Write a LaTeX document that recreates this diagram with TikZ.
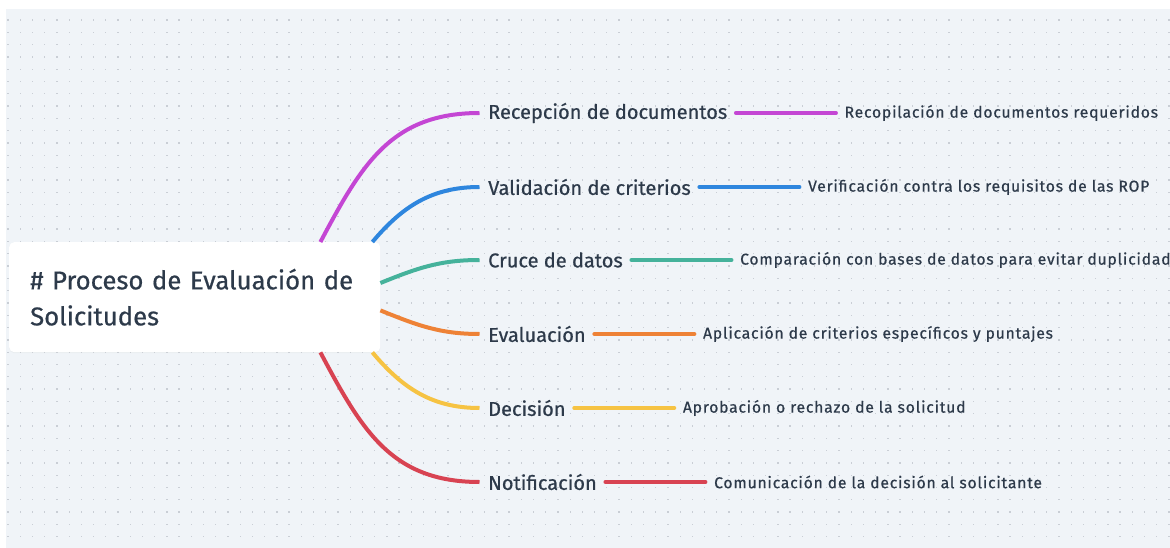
\documentclass[tikz,border=0pt]{standalone}
\usepackage{fontspec}
\setmainfont[FakeBold=0.6]{Fira Sans}
\newfontfamily\leaffont[LetterSpace=5, FakeBold=0.6]{Fira Sans}
\usepackage{tikz}
\usetikzlibrary{positioning,shadows}
\definecolor{canvas}{HTML}{F0F4F8}
\definecolor{dotgray}{HTML}{C9CED5}
\definecolor{ink}{HTML}{2D3A4A}
\definecolor{cpurple}{HTML}{C446D4}
\definecolor{cblue}{HTML}{2E86DE}
\definecolor{cteal}{HTML}{45B29B}
\definecolor{corange}{HTML}{EE8236}
\definecolor{cyellow}{HTML}{F6C343}
\definecolor{cred}{HTML}{D84352}
\tikzset
{
    rootnode/.style = {rectangle, rounded corners=5pt, fill=white, text=ink, align=left, anchor=north west, minimum width=371pt, minimum height=110pt, text width=329pt, inner xsep=21pt, font=\fontsize{25.7}{36}\selectfont, drop shadow={shadow xshift=0pt, shadow yshift=-1pt, opacity=0.06}},
    branchnode/.style = {text=ink, anchor=west, inner xsep=8.5pt, inner ysep=2pt, font=\fontsize{20}{24}\selectfont},
    leafnode/.style = {text=ink, inner xsep=8.5pt, inner ysep=2pt, font=\leaffont\fontsize{15.7}{19}\selectfont},
    branchline/.style = {line width=4pt, line cap=round}
}

\begin{document}
\begin{tikzpicture}[x=1pt, y=-1pt, node distance=100pt]
\useasboundingbox (0,0) rectangle (1170,548);
\clip (0,0) rectangle (1170,548);
\fill[canvas] (6,9) rectangle (1172,550);
\foreach \i in {0,...,95}
  \foreach \j in {0,...,43}
    \fill[dotgray] (7.4+12.22*\i,19.4+12.3*\j) rectangle ++(1.3,1.3);

\node[rootnode] (root) at (9,242) {\# Proceso de Evaluación de Solicitudes};

\node[branchnode] (recepcion) at (479.5,113) {Recepción de documentos};
\node[branchnode] (validacion) at (479.5,187) {Validación de criterios};
\node[branchnode] (cruce) at (479.5,260) {Cruce de datos};
\node[branchnode] (evaluacion) at (479.5,334) {Evaluación};
\node[branchnode] (decision) at (479.5,408) {Decisión};
\node[branchnode] (notificacion) at (479.5,482) {Notificación};

\node[leafnode, right=of recepcion] (recopilacion) {Recopilación de documentos requeridos};
\node[leafnode, right=of validacion] (verificacion) {Verificación contra los requisitos de las ROP};
\node[leafnode, right=of cruce] (comparacion) {Comparación con bases de datos para evitar duplicidades};
\node[leafnode, right=of evaluacion] (aplicacion) {Aplicación de criterios específicos y puntajes};
\node[leafnode, right=of decision] (aprobacion) {Aprobación o rechazo de la solicitud};
\node[leafnode, right=of notificacion] (comunicacion) {Comunicación de la decisión al solicitante};

% branches from the root
\draw[branchline, cpurple, line cap=butt] ([xshift=-60pt]root.north east) to[out=62, in=180, looseness=1.1] (recepcion.west);
\draw[branchline, cblue, line cap=butt] ([xshift=-8pt]root.north east) to[out=50, in=180] (validacion.west);
\draw[branchline, cteal, line cap=butt] ([yshift=-41pt]root.north east) to[out=22, in=180] (cruce.west);
\draw[branchline, corange, line cap=butt] ([yshift=42pt]root.south east) to[out=-22, in=180] (evaluacion.west);
\draw[branchline, cyellow, line cap=butt] ([xshift=-8pt]root.south east) to[out=-50, in=180] (decision.west);
\draw[branchline, cred, line cap=butt] ([xshift=-60pt]root.south east) to[out=-62, in=180, looseness=1.1] (notificacion.west);

% leaves
\draw[branchline, cpurple] (recepcion) -- (recopilacion);
\draw[branchline, cblue] (validacion) -- (verificacion);
\draw[branchline, cteal] (cruce) -- (comparacion);
\draw[branchline, corange] (evaluacion) -- (aplicacion);
\draw[branchline, cyellow] (decision) -- (aprobacion);
\draw[branchline, cred] (notificacion) -- (comunicacion);
\end{tikzpicture}
\end{document}
